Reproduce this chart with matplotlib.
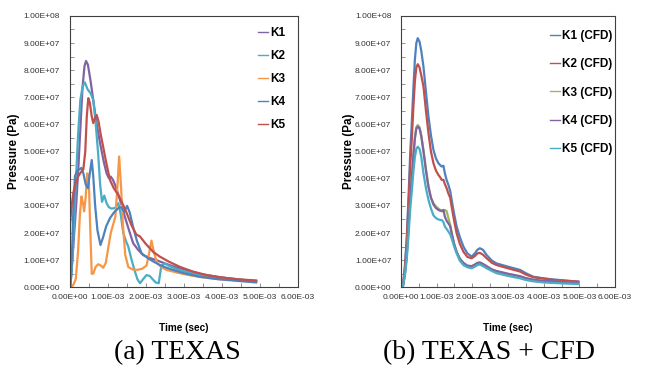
import numpy as np
import matplotlib
matplotlib.use("Agg")
import matplotlib.pyplot as plt
from matplotlib.ticker import MultipleLocator, FuncFormatter

#-----------------------------------------------------------
# pressure histories, time in ms, pressure in 1e7 Pa
# (a) TEXAS
k1_t = [0, 0.04, 0.1, 0.17, 0.23, 0.29, 0.34, 0.39, 0.43, 0.48, 0.55, 0.62, 0.7, 0.8, 0.9, 0.97, 1.03, 1.08, 1.14, 1.2,
        1.28, 1.36, 1.45, 1.56, 1.67, 1.8, 1.93, 2.1, 2.28, 2.5, 2.75, 3.0, 3.4, 3.86, 4.3, 4.9]
k1_p = [0, 0.4, 1.6, 3.0, 4.45, 6.1, 7.4, 8.15, 8.34, 8.2, 7.6, 6.9, 6.1, 5.3, 4.6, 4.2, 4.02, 4.08, 3.95, 3.75,
        3.4, 3.05, 2.6, 2.1, 1.62, 1.38, 1.19, 1.08, 1.0, 0.88, 0.76, 0.66, 0.5, 0.39, 0.31, 0.22]

k2_t = [0.02, 0.08, 0.15, 0.22, 0.28, 0.34, 0.40, 0.47, 0.55, 0.62, 0.68, 0.75, 0.8, 0.85, 0.91, 0.97, 1.03, 1.1, 1.19,
        1.28, 1.34, 1.41, 1.48, 1.54, 1.62, 1.7, 1.78, 1.85, 1.93, 2.02, 2.1, 2.18, 2.26, 2.34, 2.41, 2.5, 2.6, 2.8,
        3.1, 3.5, 4.0, 4.5, 4.9]
k2_p = [0, 1.2, 3.5, 5.6, 6.9, 7.4, 7.55, 7.3, 7.15, 6.9, 6.1, 4.9, 3.8, 3.15, 3.38, 3.1, 2.95, 2.9, 2.92,
        3.10, 2.7, 2.0, 1.7, 1.5, 1.05, 0.65, 0.3, 0.15, 0.3, 0.45, 0.42, 0.3, 0.18, 0.15, 0.8, 0.88, 0.8, 0.68,
        0.55, 0.43, 0.34, 0.28, 0.24]

k3_t = [0.04, 0.1, 0.16, 0.22, 0.27, 0.31, 0.35, 0.38, 0.42, 0.46, 0.5, 0.54, 0.58, 0.62, 0.68, 0.75, 0.82, 0.88,
        0.95, 1.02, 1.08, 1.14, 1.2, 1.25, 1.3, 1.35, 1.4, 1.46, 1.54, 1.65, 1.76, 1.9, 2.02, 2.08, 2.15, 2.22, 2.3,
        2.4, 2.55, 2.8, 3.1, 3.42, 3.9, 4.4, 4.9]
k3_p = [0, 0.1, 0.3, 1.3, 2.7, 3.35, 3.1, 2.8, 3.3, 4.2, 4.1, 2.2, 0.5, 0.5, 0.75, 0.85, 0.8, 0.72,
        0.9, 1.5, 2.0, 2.3, 2.6, 3.6, 4.82, 3.7, 2.3, 1.2, 0.75, 0.66, 0.64, 0.68, 0.8, 1.2, 1.72, 1.25, 0.9,
        0.75, 0.64, 0.55, 0.46, 0.38, 0.3, 0.26, 0.22]

k4_t = [0.02, 0.06, 0.1, 0.14, 0.2, 0.26, 0.31, 0.36, 0.42, 0.48, 0.53, 0.58, 0.62, 0.67, 0.73, 0.81, 0.88, 0.96,
        1.06, 1.16, 1.28, 1.36, 1.43, 1.51, 1.58, 1.67, 1.77, 1.89, 2.06, 2.2, 2.37, 2.55, 2.72, 3.0, 3.42, 3.9,
        4.3, 4.9]
k4_p = [0, 1.2, 3.0, 4.1, 4.3, 4.35, 4.4, 4.2, 3.8, 3.65, 4.2, 4.69, 4.1, 3.0, 2.1, 1.56, 1.85, 2.25,
        2.55, 2.75, 2.92, 2.95, 2.78, 3.0, 2.75, 2.2, 1.7, 1.25, 1.07, 0.95, 0.82, 0.72, 0.64, 0.52, 0.39, 0.3,
        0.25, 0.18]

k5_t = [0, 0.05, 0.1, 0.16, 0.23, 0.3, 0.36, 0.41, 0.45, 0.49, 0.53, 0.58, 0.62, 0.67, 0.71, 0.76, 0.82, 0.88,
        0.96, 1.06, 1.16, 1.28, 1.4, 1.5, 1.62, 1.75, 1.85, 2.0, 2.2, 2.37, 2.6, 2.9, 3.24, 3.6, 4.0, 4.47, 4.9]
k5_p = [2.17, 3.0, 3.5, 3.85, 4.1, 4.25, 4.35, 5.0, 6.3, 6.97, 6.8, 6.3, 6.05, 6.25, 6.35, 6.1, 5.6, 5.18,
        4.6, 3.95, 3.65, 3.4, 3.05, 2.73, 2.3, 1.95, 1.87, 1.6, 1.3, 1.13, 0.95, 0.75, 0.58, 0.45, 0.36, 0.29, 0.25]

# (b) TEXAS + CFD, all five gauges share one time base
cfd_t = [0.05, 0.11, 0.16, 0.21, 0.26, 0.30, 0.35, 0.39, 0.43, 0.47,
         0.52, 0.57, 0.63, 0.7, 0.77, 0.84, 0.91, 0.98, 1.05, 1.1, 1.14, 1.19, 1.23, 1.28, 1.33, 1.38, 1.42,
         1.49, 1.56, 1.65, 1.75, 1.86, 1.98, 2.07, 2.14, 2.21, 2.3, 2.4, 2.55, 2.68, 3.0, 3.34, 3.5, 3.71,
         4.0, 4.27, 4.6, 4.97]
cfd_k1 = [0, 0.8, 1.8, 3.3, 5.0, 6.0, 7.4, 8.4, 9.0, 9.18,
          9.05, 8.7, 8.13, 7.2, 6.29, 5.6, 5.06, 4.75, 4.57, 4.5, 4.45, 4.48, 4.2, 3.95, 3.77, 3.55, 3.22,
          2.7, 2.24, 1.85, 1.5, 1.25, 1.13, 1.25, 1.38, 1.44, 1.38, 1.19, 0.98, 0.88, 0.76, 0.64, 0.52, 0.39,
          0.33, 0.29, 0.25, 0.21]
cfd_k2 = [0, 0.7, 1.6, 3.0, 4.5, 5.4, 6.7, 7.6, 8.1, 8.22,
          8.1, 7.8, 7.4, 6.5, 5.68, 5.0, 4.57, 4.3, 4.14, 4.05, 3.96, 3.96, 3.8, 3.65, 3.45, 3.3, 2.97,
          2.45, 1.99, 1.6, 1.31, 1.12, 1.07, 1.15, 1.25, 1.27, 1.2, 1.07, 0.9, 0.82, 0.7, 0.58, 0.47, 0.37,
          0.32, 0.27, 0.24, 0.21]
cfd_k3 = [0, 0.5, 1.2, 2.2, 3.3, 4.0, 4.9, 5.5, 5.9, 5.98,
          5.9, 5.6, 5.06, 4.35, 3.71, 3.3, 3.10, 2.98, 2.9, 2.85, 2.8, 2.8, 2.85, 2.8, 2.55, 2.3, 2.0,
          1.6, 1.31, 1.05, 0.88, 0.78, 0.76, 0.82, 0.88, 0.9, 0.85, 0.76, 0.64, 0.58, 0.48, 0.39, 0.33, 0.27,
          0.23, 0.21, 0.18, 0.16]
cfd_k4 = [0, 0.5, 1.2, 2.2, 3.3, 4.0, 4.9, 5.5, 5.85, 5.92,
          5.85, 5.55, 5.0, 4.3, 3.7, 3.3, 3.05, 2.92, 2.85, 2.82, 2.82, 2.85, 2.6, 2.45, 2.35, 2.25, 2.0,
          1.6, 1.3, 1.05, 0.9, 0.8, 0.78, 0.84, 0.9, 0.92, 0.86, 0.78, 0.66, 0.6, 0.5, 0.41, 0.34, 0.28,
          0.24, 0.22, 0.19, 0.17]
cfd_k5 = [0, 0.45, 1.0, 1.9, 2.9, 3.5, 4.3, 4.8, 5.1, 5.18,
          5.1, 4.8, 4.2, 3.65, 3.22, 2.9, 2.65, 2.55, 2.5, 2.48, 2.48, 2.4, 2.24, 2.15, 2.05, 1.95, 1.8,
          1.5, 1.25, 0.98, 0.82, 0.74, 0.70, 0.76, 0.82, 0.84, 0.78, 0.70, 0.6, 0.52, 0.42, 0.33, 0.27, 0.22,
          0.18, 0.16, 0.14, 0.12]

# Excel 2010 palette
blue, red, green, purple, aqua, orange = '#4F81BD', '#C0504D', '#9BBB59', '#8064A2', '#4BACC6', '#F79646'

texas = [("K1", k1_t, k1_p, purple), ("K2", k2_t, k2_p, aqua), ("K3", k3_t, k3_p, orange),
         ("K4", k4_t, k4_p, blue), ("K5", k5_t, k5_p, red)]
texas_cfd = [("K1 (CFD)", cfd_t, cfd_k1, blue), ("K2 (CFD)", cfd_t, cfd_k2, red), ("K3 (CFD)", cfd_t, cfd_k3, green),
             ("K4 (CFD)", cfd_t, cfd_k4, purple), ("K5 (CFD)", cfd_t, cfd_k5, aqua)]

plt.rcParams['font.family'] = ['Liberation Sans Narrow', 'Liberation Sans', 'DejaVu Sans']

#-----------------------------------------------------------
def pressure_plot(ax, series, legend_x, legend_y, spacing):
  for name, t, p, color in series:
    ax.plot(np.array(t) * 1e-3, np.array(p) * 1e7, color=color, lw=1.6, label=name)
  ax.set_xlim(0, 6e-3)
  ax.set_ylim(0, 1e8)
  ax.xaxis.set_major_locator(MultipleLocator(1e-3))
  ax.xaxis.set_minor_locator(MultipleLocator(5e-4))
  ax.yaxis.set_major_locator(MultipleLocator(1e7))
  ax.yaxis.set_minor_locator(MultipleLocator(5e6))
  fmt = FuncFormatter(lambda v, pos: f"{v:.2E}")
  ax.xaxis.set_major_formatter(fmt)
  ax.yaxis.set_major_formatter(fmt)
  ax.tick_params(which='both', direction='in', length=3, width=0.6, color='#808080',
                 labelsize=6, labelcolor='#333333')
  ax.tick_params(axis='y', pad=7)
  ax.tick_params(axis='x', pad=5)
  for s in ax.spines.values():
    s.set_color('#404040')
    s.set_linewidth(0.8)
  ax.set_xlabel("Time (sec)", fontsize=7.2, fontweight='bold')
  ax.set_ylabel("Pressure (Pa)", fontsize=8.4, fontweight='bold', family=['Liberation Sans', 'DejaVu Sans'])
  ax.xaxis.set_label_coords(0.5, -0.13)
  ax.yaxis.set_label_coords(-0.217, 0.5)
  leg = ax.legend(loc='upper left', bbox_to_anchor=(legend_x, legend_y), frameon=False,
                  prop={'weight': 'bold', 'size': 8.5},
                  handlelength=0.85, handletextpad=0.2, labelspacing=spacing, borderpad=0, borderaxespad=0)
  for line in leg.get_lines():
    line.set_linewidth(1.0)


#-----------------------------------------------------------
fig = plt.figure(figsize=(6.45, 3.70), dpi=100)
ax_a = fig.add_axes([0.108, 0.2235, 0.354, 0.7335])
ax_b = fig.add_axes([0.6217, 0.2235, 0.3318, 0.7335])

pressure_plot(ax_a, texas, 0.825, 0.958, 0.92)
pressure_plot(ax_b, texas_cfd, 0.695, 0.948, 1.38)

fig.text(177 / 645, 0.046, "(a) TEXAS", ha='center', va='center', fontsize=20, family='Liberation Serif')
fig.text(489 / 645, 0.046, "(b) TEXAS + CFD", ha='center', va='center', fontsize=20, family='Liberation Serif')

plt.savefig("out.png", dpi=100)
plt.close()
